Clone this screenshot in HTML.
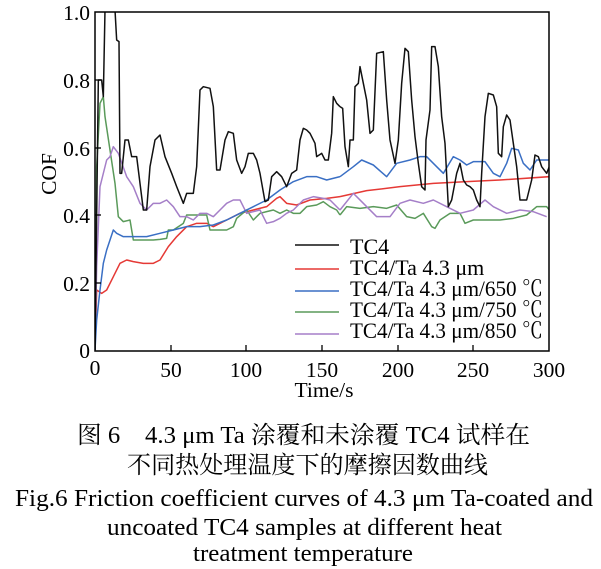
<!DOCTYPE html>
<html><head><meta charset="utf-8"><style>
body{margin:0;background:#fff;width:601px;height:569px;overflow:hidden}
svg{display:block}
text{font-family:"Liberation Serif","Noto Serif CJK SC",serif;fill:#000}
</style></head><body>
<svg width="601" height="569" viewBox="0 0 601 569">
<defs><clipPath id="c"><rect x="95" y="12" width="454" height="339"/></clipPath></defs>
<g clip-path="url(#c)" fill="none" stroke-width="1.5" stroke-linejoin="round">
<g transform="translate(40,0) scale(0.33333)">
<polyline vector-effect="non-scaling-stroke" stroke="#e53935" points="165,1050 170,870 185,880 200,870 220,830 240,790 260,780 280,785 310,790 340,790 360,780 385,740 410,710 440,680 470,670 500,670 520,680 560,660 600,640 640,630 680,620 710,595 720,590 740,610 770,615 810,600 860,595 900,590"/>
<polyline vector-effect="non-scaling-stroke" stroke="#5a9a5a" points="165,1050 170,500 180,310 190,290 195,350 210,450 225,550 235,650 250,665 270,660 280,720 300,720 320,720 340,720 360,718 380,715 385,690 400,690 430,670 440,645 470,645 500,645 510,690 530,690 560,690 580,680 590,655 620,630 640,660 660,640 680,635 700,630 720,640 740,630 760,640 780,640 800,620 830,615 850,605 870,620 890,630 900,645"/>
<polyline vector-effect="non-scaling-stroke" stroke="#a57fc8" points="165,1050 170,800 180,560 200,480 210,470 220,440 235,460 260,530 280,560 300,610 320,630 340,610 360,610 380,600 400,620 420,650 440,650 460,660 480,640 500,640 520,650 540,630 560,610 580,600 600,600 620,640 660,630 680,670 700,665 720,655 740,640 760,630 790,600 820,590 850,595 870,600 900,630"/>
<polyline vector-effect="non-scaling-stroke" stroke="#3a6fc4" points="165,1050 170,960 180,870 190,790 200,750 210,720 220,690 230,700 250,710 280,710 320,710 360,700 400,690 440,680 480,680 520,675 560,660 600,640 640,620 680,600 720,570 760,545 800,530 830,530 860,540 900,530"/>
<polyline vector-effect="non-scaling-stroke" stroke="#111" points="165,1050 175,240 185,240 190,290 195,30 225,30 230,120 237,125 240,520 245,520 255,420 265,420 275,470 290,470 310,630 320,630 330,500 345,420 360,405 375,470 395,520 410,560 430,610 440,580 460,580 470,500 480,270 490,260 510,265 520,320 530,510 540,510 555,420 565,395 580,400 590,480 605,520 615,500 625,460 640,460 650,480 660,520 675,605 685,600 695,530 710,515 725,530 740,560 755,520 770,510 780,420 790,385 800,390 810,400 825,430 830,470 845,460 855,480 865,480 875,400 880,290 890,310 900,320"/>
</g>
<g transform="translate(300,0) scale(0.33333)">
<polyline vector-effect="non-scaling-stroke" stroke="#e53935" points="120,590 200,572 300,560 400,550 500,545 600,540 748,530"/>
<polyline vector-effect="non-scaling-stroke" stroke="#5a9a5a" points="120,645 140,620 180,625 220,620 260,625 290,615 320,650 345,655 370,640 395,680 405,685 420,660 450,640 480,640 495,670 520,660 560,660 600,660 640,655 680,645 710,620 740,620 748,630"/>
<polyline vector-effect="non-scaling-stroke" stroke="#a57fc8" points="120,630 160,580 190,610 230,650 270,650 300,610 330,600 370,610 400,600 440,620 480,640 520,630 555,600 580,620 620,640 660,630 700,635 740,650"/>
<polyline vector-effect="non-scaling-stroke" stroke="#3a6fc4" points="120,530 160,500 185,480 220,495 260,530 290,490 330,480 360,470 380,470 410,500 430,520 460,470 480,480 500,495 520,485 555,485 580,520 600,530 620,490 635,445 655,450 670,490 690,510 710,480 748,480"/>
<polyline vector-effect="non-scaling-stroke" stroke="#111" points="120,320 128,325 135,440 145,500 150,420 160,420 165,260 175,250 180,200 190,250 200,300 210,400 220,390 230,160 250,155 260,300 270,420 285,490 295,420 305,250 315,145 325,155 335,300 345,410 355,490 365,560 375,570 378,420 390,330 395,140 405,140 415,200 425,350 435,430 445,620 455,600 470,520 480,490 490,540 500,555 510,560 520,570 530,600 540,620 545,520 555,350 565,280 580,285 590,320 595,460 605,470 610,380 620,345 630,360 640,430 650,500 660,600 680,600 695,540 705,465 715,470 725,500 740,520 748,500"/>
</g>
</g>
<rect x="95" y="12" width="454" height="339" fill="none" stroke="#000" stroke-width="1.5"/>
<g stroke="#000" stroke-width="1.3">
<line x1="171" y1="351" x2="171" y2="345"/><line x1="246" y1="351" x2="246" y2="345"/><line x1="322" y1="351" x2="322" y2="345"/><line x1="398" y1="351" x2="398" y2="345"/><line x1="473" y1="351" x2="473" y2="345"/>
<line x1="95" y1="283" x2="101" y2="283"/><line x1="95" y1="215" x2="101" y2="215"/><line x1="95" y1="148" x2="101" y2="148"/><line x1="95" y1="80" x2="101" y2="80"/>
</g>
<g font-size="21.5" text-anchor="end">
<text x="90" y="20">1.0</text><text x="90" y="88">0.8</text><text x="90" y="156">0.6</text><text x="90" y="223">0.4</text><text x="90" y="291">0.2</text><text x="90" y="358">0</text>
</g>
<g font-size="21.5" text-anchor="middle">
<text x="95" y="375">0</text><text x="171" y="377">50</text><text x="246" y="377">100</text><text x="322" y="377">150</text><text x="398" y="377">200</text><text x="473" y="377">250</text><text x="549" y="377">300</text>
<text x="324" y="397">Time/s</text>
<text transform="translate(56,174) rotate(-90)">COF</text>
</g>
<g stroke-width="1.5">
<line x1="295" x2="339" y1="245" y2="245" stroke="#111"/>
<line x1="295" x2="339" y1="269" y2="269" stroke="#e53935"/>
<line x1="295" x2="339" y1="291" y2="291" stroke="#3a6fc4"/>
<line x1="295" x2="339" y1="312" y2="312" stroke="#5a9a5a"/>
<line x1="295" x2="339" y1="334" y2="334" stroke="#a57fc8"/>
</g>
<g font-size="22">
<text x="350" y="254">TC4</text>
<text x="350" y="275">TC4/Ta 4.3 μm</text>
<text x="350" y="296" textLength="193" lengthAdjust="spacingAndGlyphs">TC4/Ta 4.3 μm/650 ℃</text>
<text x="350" y="317" textLength="193" lengthAdjust="spacingAndGlyphs">TC4/Ta 4.3 μm/750 ℃</text>
<text x="350" y="338" textLength="193" lengthAdjust="spacingAndGlyphs">TC4/Ta 4.3 μm/850 ℃</text>
</g>
<g font-size="24">
<text x="77" y="443" textLength="453" lengthAdjust="spacingAndGlyphs">图 6　4.3 μm Ta 涂覆和未涂覆 TC4 试样在</text>
<text x="127" y="473" textLength="361" lengthAdjust="spacingAndGlyphs">不同热处理温度下的摩擦因数曲线</text>
<text x="15" y="506" textLength="578" lengthAdjust="spacingAndGlyphs">Fig.6 Friction coefficient curves of 4.3 μm Ta-coated and</text>
<text x="107" y="535" textLength="395" lengthAdjust="spacingAndGlyphs">uncoated TC4 samples at different heat</text>
<text x="193" y="561" textLength="220" lengthAdjust="spacingAndGlyphs">treatment temperature</text>
</g>
</svg>
</body></html>
